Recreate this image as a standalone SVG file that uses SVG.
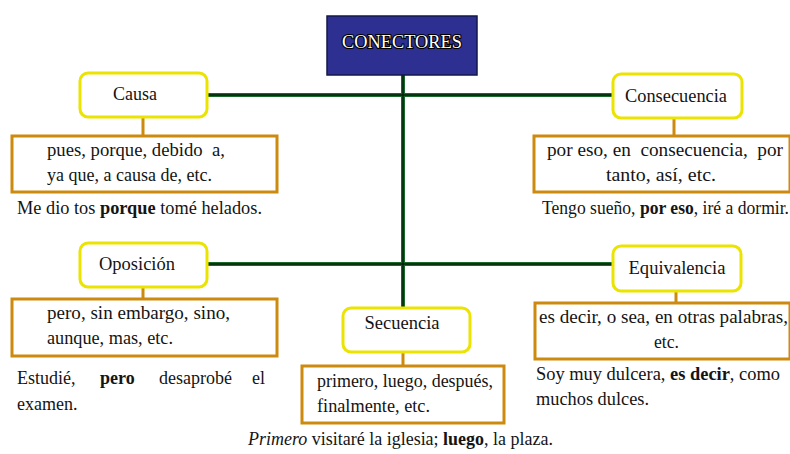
<svg xmlns="http://www.w3.org/2000/svg" width="790" height="454" viewBox="0 0 790 454">
<style>
text{font-family:'Liberation Serif','DejaVu Serif',serif}
.t{font-size:18px;fill:#141414}
.c{text-anchor:middle}
.b{font-weight:bold}
.yb{fill:#fff;stroke:#EBE300;stroke-width:3}
.ob{fill:#fff;stroke:#CC8A0E;stroke-width:3}
.ol{stroke:#CC8A0E;stroke-width:3}
.g1{stroke:#1a6a2c;stroke-width:4;fill:none}
.g2{stroke:#05200a;stroke-width:1.4;fill:none}
.title{font-size:18px;fill:#fff;stroke:#000;stroke-width:2.2;paint-order:stroke;stroke-linejoin:round}
</style>
<rect width="790" height="454" fill="#fff"/>
<g id="connectors">
  <path class="g1" d="M403 75V308M205 95H613M207 264H612"/>
  <path class="g2" d="M403 75V308M205 95H613M207 264H612"/>
  <path class="ol" d="M143 117V136M674 118V136M143 287V299M403 352V366M676 291V303"/>
</g>
<g id="conectores">
  <rect x="327" y="16" width="150" height="59" fill="#2D3091" stroke="#14174a" stroke-width="1.5"/>
  <text class="title c" x="402" y="48" font-family="Liberation Serif, serif" textLength="120" lengthAdjust="spacingAndGlyphs">CONECTORES</text>
</g>
<g id="causa">
  <rect class="yb" x="80" y="73" width="127" height="44" rx="8"/>
  <text class="t c" x="135" y="100" font-family="Liberation Serif, serif">Causa</text>
</g>
<g id="causa-def">
  <rect class="ob" x="12" y="136" width="265" height="56"/>
  <text class="t" x="47" y="156" xml:space="preserve" textLength="178" lengthAdjust="spacingAndGlyphs">pues, porque, debido  a,</text>
  <text class="t" x="47" y="181" textLength="165" lengthAdjust="spacingAndGlyphs">ya que, a causa de, etc.</text>
</g>
<g id="causa-ej">
  <text class="t" x="17" y="214" textLength="245" lengthAdjust="spacingAndGlyphs">Me dio tos <tspan class="b">porque</tspan> tomé helados.</text>
</g>
<g id="consecuencia">
  <rect class="yb" x="613" y="74" width="129" height="44" rx="8"/>
  <text class="t c" x="676" y="102" textLength="102" lengthAdjust="spacingAndGlyphs">Consecuencia</text>
</g>
<g id="consecuencia-def">
  <rect class="ob" x="534" y="136" width="256" height="56"/>
  <text class="t" x="547" y="156" xml:space="preserve" textLength="236" lengthAdjust="spacingAndGlyphs">por eso, en  consecuencia,  por</text>
  <text class="t c" x="661" y="181" textLength="110" lengthAdjust="spacingAndGlyphs">tanto, así, etc.</text>
</g>
<g id="consecuencia-ej">
  <text class="t" x="542" y="214" textLength="247" lengthAdjust="spacingAndGlyphs">Tengo sueño, <tspan class="b">por eso</tspan>, iré a dormir.</text>
</g>
<g id="oposicion">
  <rect class="yb" x="80" y="243" width="127" height="44" rx="8"/>
  <text class="t c" x="137" y="270" textLength="76" lengthAdjust="spacingAndGlyphs">Oposición</text>
</g>
<g id="oposicion-def">
  <rect class="ob" x="12" y="299" width="265" height="57"/>
  <text class="t" x="47" y="319" textLength="183" lengthAdjust="spacingAndGlyphs">pero, sin embargo, sino,</text>
  <text class="t" x="47" y="344" textLength="126" lengthAdjust="spacingAndGlyphs">aunque, mas, etc.</text>
</g>
<g id="oposicion-ej">
  <text class="t" x="17" y="384">Estudié,</text>
  <text class="t b" x="100" y="384">pero</text>
  <text class="t" x="159" y="384">desaprobé</text>
  <text class="t" x="252" y="384">el</text>
  <text class="t" x="17" y="410">examen.</text>
</g>
<g id="secuencia">
  <rect class="yb" x="343" y="308" width="127" height="44" rx="8"/>
  <text class="t c" x="402" y="329" textLength="75" lengthAdjust="spacingAndGlyphs">Secuencia</text>
</g>
<g id="secuencia-def">
  <rect class="ob" x="302" y="366" width="202" height="57"/>
  <text class="t" x="317" y="387" textLength="176" lengthAdjust="spacingAndGlyphs">primero, luego, después,</text>
  <text class="t" x="317" y="412" textLength="113" lengthAdjust="spacingAndGlyphs">finalmente, etc.</text>
</g>
<g id="secuencia-ej">
  <text class="t" x="248" y="445" textLength="305" lengthAdjust="spacingAndGlyphs"><tspan font-style="italic">Primero</tspan> visitaré la iglesia; <tspan class="b">luego</tspan>, la plaza.</text>
</g>
<g id="equivalencia">
  <rect class="yb" x="613" y="246" width="128" height="45" rx="8"/>
  <text class="t c" x="677" y="274" textLength="97" lengthAdjust="spacingAndGlyphs">Equivalencia</text>
</g>
<g id="equivalencia-def">
  <rect class="ob" x="535" y="303" width="255" height="56"/>
  <text class="t" x="539" y="323" textLength="249" lengthAdjust="spacingAndGlyphs">es decir, o sea, en otras palabras,</text>
  <text class="t" x="654" y="348" textLength="25" lengthAdjust="spacingAndGlyphs">etc.</text>
</g>
<g id="equivalencia-ej">
  <text class="t" x="536" y="380" textLength="244" lengthAdjust="spacingAndGlyphs">Soy muy dulcera, <tspan class="b">es decir</tspan>, como</text>
  <text class="t" x="536" y="405" textLength="113" lengthAdjust="spacingAndGlyphs">muchos dulces.</text>
</g>
</svg>
